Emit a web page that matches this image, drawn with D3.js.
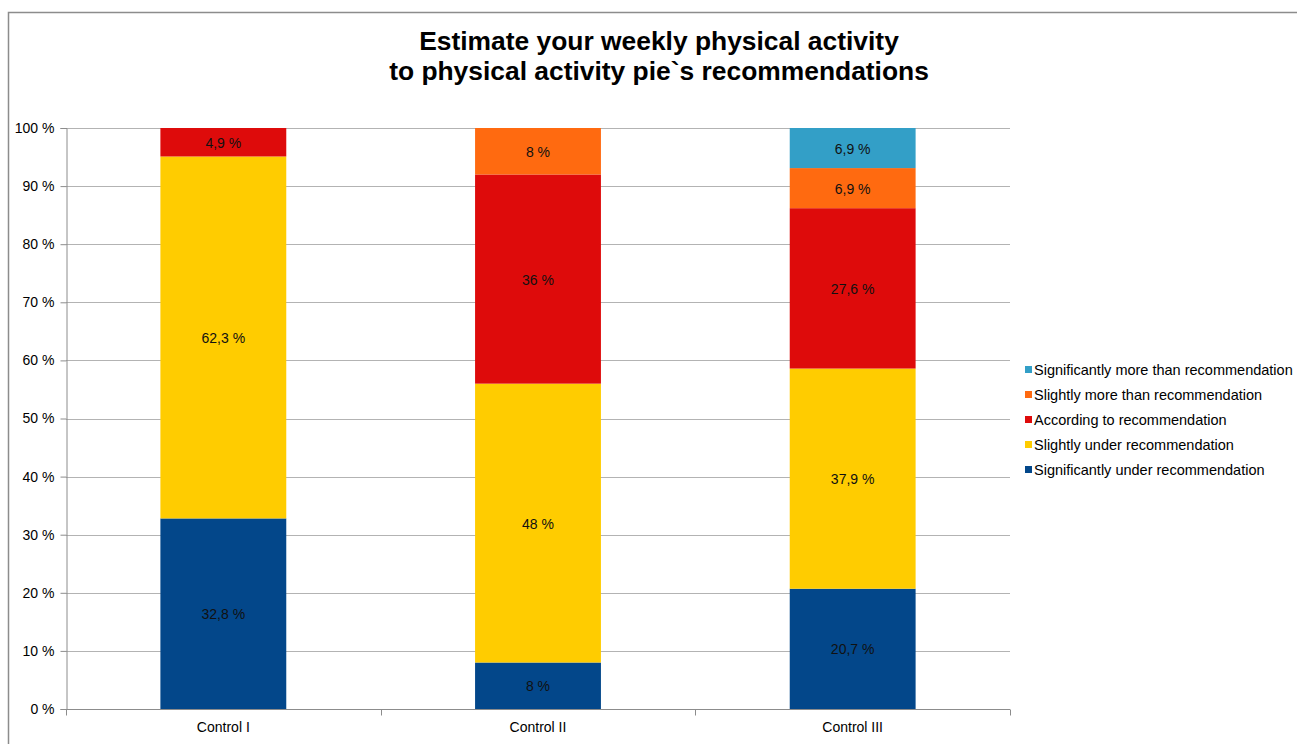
<!DOCTYPE html>
<html>
<head>
<meta charset="utf-8">
<script src="https://cdn.jsdelivr.net/npm/d3@7"></script>
<style>
  html, body { margin: 0; padding: 0; background: #fff; }
  svg { display: block; font-family: "Liberation Sans", Arial, sans-serif; }
</style>
</head>
<body>
<svg id="chart" width="1297" height="744"></svg>
<script>
// Groups along the x axis
const categories = ["Control I", "Control II", "Control III"];

// Answer categories, bottom of the stack first
const seriesNames = [
  "Significantly under recommendation",
  "Slightly under recommendation",
  "According to recommendation",
  "Slightly more than recommendation",
  "Significantly more than recommendation"
];

// Share of respondents (%) per group
const sigUnder   = [32.8, 8, 20.7];
const slightUnder = [62.3, 48, 37.9];
const according  = [4.9, 36, 27.6];
const slightMore = [0, 8, 6.9];
const sigMore    = [0, 0, 6.9];

const yTicks = [0, 10, 20, 30, 40, 50, 60, 70, 80, 90, 100];

const colors = ["#03478a", "#ffcc00", "#de0b0b", "#ff6a10", "#339fc7"];

const seriesValues = [sigUnder, slightUnder, according, slightMore, sigMore];

const rows = categories.map((c, i) => {
  const r = { category: c };
  seriesNames.forEach((s, k) => { r[s] = seriesValues[k][i]; });
  return r;
});

const stack = d3.stack().keys(seriesNames);
const layers = stack(rows);

const svg = d3.select("#chart");

// outer frame of the chart
svg.append("rect")
  .attr("x", 8.5).attr("y", 12.5)
  .attr("width", 1400).attr("height", 800)
  .attr("fill", "none").attr("stroke", "#8c8c8c").attr("stroke-width", 1.5);

const plot = { left: 66, right: 1010, top: 128, bottom: 709 };

const x = d3.scaleBand()
  .domain(categories)
  .range([plot.left, plot.right])
  .paddingInner(0.6).paddingOuter(0.3);

const xOuter = d3.scaleBand().domain(categories).range([plot.left, plot.right]);

const y = d3.scaleLinear().domain([0, 100]).range([plot.bottom, plot.top]);

const fmt = v => String(v).replace(".", ",") + " %";

// title
const title = svg.append("text")
  .attr("text-anchor", "middle")
  .attr("font-size", 26.4)
  .attr("font-weight", "bold")
  .attr("fill", "#000");
title.append("tspan").attr("x", 659).attr("y", 50).text("Estimate your weekly physical activity");
title.append("tspan").attr("x", 659).attr("y", 80).text("to physical activity pie`s recommendations");

// horizontal gridlines
svg.append("g")
  .selectAll("line")
  .data(yTicks.filter(t => t > 0))
  .join("line")
  .attr("x1", plot.left).attr("x2", plot.right)
  .attr("y1", d => Math.round(y(d)) + 0.5).attr("y2", d => Math.round(y(d)) + 0.5)
  .attr("stroke", "#b3b3b3").attr("stroke-width", 1);

// y axis
const yAxis = svg.append("g")
  .attr("transform", `translate(${plot.left + 0.5},0)`)
  .call(d3.axisLeft(y).tickValues(yTicks).tickFormat(d => d + " %").tickSize(6).tickPadding(6));
yAxis.select(".domain").attr("stroke", "#8c8c8c");
yAxis.selectAll(".tick line").attr("stroke", "#8c8c8c");
yAxis.selectAll(".tick text").attr("font-size", 14).attr("fill", "#000")
  .attr("font-family", "Liberation Sans, Arial, sans-serif");

// bars
const layerG = svg.append("g")
  .selectAll("g")
  .data(layers)
  .join("g")
  .attr("fill", (d, i) => colors[i]);

layerG.selectAll("rect")
  .data(d => d.filter(s => s[1] - s[0] > 0))
  .join("rect")
  .attr("x", d => x(d.data.category))
  .attr("width", x.bandwidth())
  .attr("y", d => y(d[1]))
  .attr("height", d => y(d[0]) - y(d[1]));

// value labels
const labels = [];
layers.forEach((layer) => {
  layer.forEach(s => {
    const v = s.data[layer.key];
    if (v > 0) labels.push({ cat: s.data.category, v, mid: (s[0] + s[1]) / 2 });
  });
});
svg.append("g")
  .selectAll("text")
  .data(labels)
  .join("text")
  .attr("x", d => x(d.cat) + x.bandwidth() / 2)
  .attr("y", d => y(d.mid) + 5.5)
  .attr("text-anchor", "middle")
  .attr("font-size", 14)
  .attr("fill", "#111")
  .text(d => fmt(d.v));

// x axis
const xAxisG = svg.append("g").attr("transform", `translate(0,${plot.bottom + 0.5})`);
xAxisG.append("line")
  .attr("x1", plot.left).attr("x2", plot.right)
  .attr("stroke", "#8c8c8c");
const bounds = categories.map(c => xOuter(c)).concat([plot.right]);
xAxisG.selectAll("line.tk")
  .data(bounds)
  .join("line").attr("class", "tk")
  .attr("x1", d => Math.round(d) + 0.5).attr("x2", d => Math.round(d) + 0.5)
  .attr("y1", 0).attr("y2", 6)
  .attr("stroke", "#8c8c8c");
xAxisG.selectAll("text")
  .data(categories)
  .join("text")
  .attr("x", d => xOuter(d) + xOuter.bandwidth() / 2)
  .attr("y", 22)
  .attr("text-anchor", "middle")
  .attr("font-size", 14)
  .attr("fill", "#000")
  .text(d => d);

// legend, top entry is the top of the stack
const legendItems = seriesNames.map((s, i) => ({ name: s, color: colors[i] })).reverse();
const legend = svg.append("g").attr("transform", "translate(1025,370)");
const li = legend.selectAll("g")
  .data(legendItems)
  .join("g")
  .attr("transform", (d, i) => `translate(0,${i * 25})`);
li.append("rect")
  .attr("x", 0).attr("y", -4)
  .attr("width", 7).attr("height", 7)
  .attr("fill", d => d.color);
li.append("text")
  .attr("x", 9).attr("y", 5)
  .attr("font-size", 14.5)
  .attr("fill", "#000")
  .text(d => d.name);
</script>
</body>
</html>
